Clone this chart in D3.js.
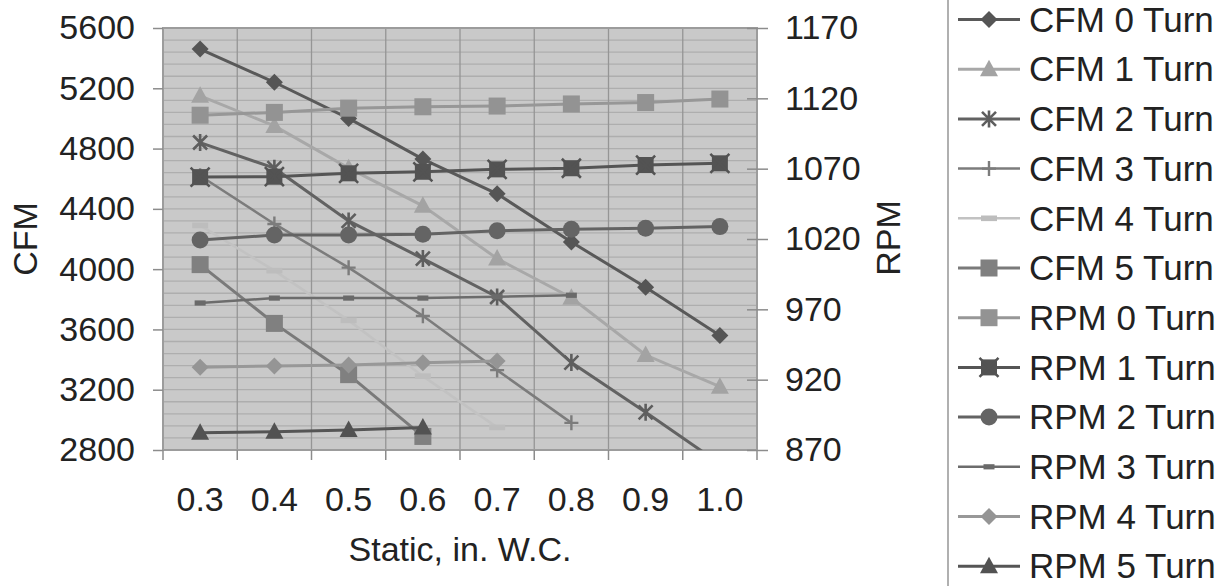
<!DOCTYPE html>
<html>
<head>
<meta charset="utf-8">
<script src="https://cdnjs.cloudflare.com/ajax/libs/d3/7.8.5/d3.min.js"></script>
<style>
  html, body { margin: 0; padding: 0; background: #fff; }
  svg text { font-family: "Liberation Sans", Arial, sans-serif; fill: #222; }
</style>
</head>
<body>
<div id="chart"></div>
<script>
// fan curves: CFM (left axis) and RPM (right axis) against static pressure

const staticLabels = ["0.3", "0.4", "0.5", "0.6", "0.7", "0.8", "0.9", "1.0"];

const cfm0 = [5460, 5240, 5000, 4730, 4500, 4180, 3880, 3560];
const cfm1 = [5150, 4950, 4670, 4420, 4070, 3810, 3430, 3220];
const cfm2 = [4840, 4670, 4320, 4070, 3815, 3380, 3050, 2710];
const cfm3 = [4620, 4300, 4010, 3690, 3330, 2980];
const cfm4 = [4290, 3990, 3660, 3290, 2950];
const cfm5 = [4030, 3640, 3300, 2890];

const rpm0 = [1108, 1110, 1113, 1114, 1114.5, 1116, 1117, 1119.5];
const rpm1 = [1064, 1064.3, 1066.7, 1067.8, 1069.5, 1070.3, 1072.6, 1073.8];
const rpm2 = [1019.3, 1022.8, 1022.8, 1023.3, 1025.9, 1026.9, 1027.6, 1028.8];
const rpm3 = [974.5, 978, 978, 978, 979, 980];
const rpm4 = [928.8, 929.7, 930.4, 932, 933.3];
const rpm5 = [882.3, 883, 884.2, 886];

const cfmTicks = d3.range(2800, 5601, 400);
const rpmTicks = d3.range(870, 1171, 50);

const seriesNames = ["CFM 0 Turn", "CFM 1 Turn", "CFM 2 Turn", "CFM 3 Turn", "CFM 4 Turn", "CFM 5 Turn",
                     "RPM 0 Turn", "RPM 1 Turn", "RPM 2 Turn", "RPM 3 Turn", "RPM 4 Turn", "RPM 5 Turn"];

// styling per series (axis, line colour, marker shape, marker colour, line width)
const series = [
  { values: cfm0, axis: "L", stroke: "#595959", marker: "diamond", fill: "#555555", w: 3 },
  { values: cfm1, axis: "L", stroke: "#a8a8a8", marker: "triangle", fill: "#a3a3a3", w: 3 },
  { values: cfm2, axis: "L", stroke: "#626262", marker: "asterisk", fill: "#5e5e5e", w: 3 },
  { values: cfm3, axis: "L", stroke: "#7c7c7c", marker: "plus", fill: "#7c7c7c", w: 2.5 },
  { values: cfm4, axis: "L", stroke: "#c2c2c2", marker: "dashWide", fill: "#bdbdbd", w: 2.5 },
  { values: cfm5, axis: "L", stroke: "#7a7a7a", marker: "square", fill: "#808080", w: 3 },
  { values: rpm0, axis: "R", stroke: "#979797", marker: "square", fill: "#939393", w: 3 },
  { values: rpm1, axis: "R", stroke: "#555555", marker: "squareX", fill: "#535353", w: 3 },
  { values: rpm2, axis: "R", stroke: "#636363", marker: "circle", fill: "#646464", w: 3 },
  { values: rpm3, axis: "R", stroke: "#6c6c6c", marker: "dash", fill: "#6a6a6a", w: 2.5 },
  { values: rpm4, axis: "R", stroke: "#989898", marker: "diamond", fill: "#959595", w: 3 },
  { values: rpm5, axis: "R", stroke: "#555555", marker: "triangle", fill: "#525252", w: 3 }
];

const W = 1222, H = 586;
const plot = { left: 163, right: 757, top: 28, bottom: 450 };

const svg = d3.select("#chart").append("svg")
  .attr("width", W).attr("height", H);

const x = d3.scaleBand().domain(staticLabels).range([plot.left, plot.right]);
const xc = d => x(d) + x.bandwidth() / 2;
const yL = d3.scaleLinear().domain([2800, 5600]).range([plot.bottom, plot.top]);
const yR = d3.scaleLinear().domain([870, 1170]).range([plot.bottom, plot.top]);

// plot background and grid
svg.append("rect")
  .attr("x", plot.left).attr("y", plot.top)
  .attr("width", plot.right - plot.left).attr("height", plot.bottom - plot.top)
  .attr("fill", "#c9c9c9");

svg.append("g").selectAll("line")
  .data(d3.range(2800, 5601, 80))
  .enter().append("line")
  .attr("x1", plot.left).attr("x2", plot.right)
  .attr("y1", d => yL(d)).attr("y2", d => yL(d))
  .attr("stroke", "#aeaeae").attr("stroke-width", 1.3);

svg.append("g").selectAll("line")
  .data(staticLabels.slice(1))
  .enter().append("line")
  .attr("x1", d => x(d)).attr("x2", d => x(d))
  .attr("y1", plot.top).attr("y2", plot.bottom)
  .attr("stroke", "#959595").attr("stroke-width", 1.3);

svg.append("rect")
  .attr("x", plot.left).attr("y", plot.top)
  .attr("width", plot.right - plot.left).attr("height", plot.bottom - plot.top)
  .attr("fill", "none").attr("stroke", "#9c9c9c").attr("stroke-width", 2);

svg.append("defs").append("clipPath").attr("id", "clip")
  .append("rect")
  .attr("x", plot.left).attr("y", plot.top)
  .attr("width", plot.right - plot.left).attr("height", plot.bottom - plot.top);

// marker drawing
function drawMarker(g, type, cx, cy, color) {
  const m = g.append("g").attr("transform", `translate(${cx},${cy})`);
  if (type === "diamond") {
    m.append("path").attr("d", "M0,-8.5L8.5,0L0,8.5L-8.5,0Z").attr("fill", color);
  } else if (type === "triangle") {
    m.append("path").attr("d", "M0,-9.5L9,7L-9,7Z").attr("fill", color);
  } else if (type === "square") {
    m.append("rect").attr("x", -8.5).attr("y", -8.5).attr("width", 17).attr("height", 17).attr("fill", color);
  } else if (type === "squareX") {
    m.append("rect").attr("x", -8).attr("y", -8).attr("width", 16).attr("height", 16).attr("fill", color);
    m.append("path").attr("d", "M-9.5,-9.5L9.5,9.5M-9.5,9.5L9.5,-9.5")
      .attr("stroke", color).attr("stroke-width", 2.5);
  } else if (type === "circle") {
    m.append("circle").attr("r", 8.5).attr("fill", color);
  } else if (type === "asterisk") {
    m.append("path").attr("d", "M-7,-7L7,7M-7,7L7,-7M0,-8.5L0,8.5")
      .attr("stroke", color).attr("stroke-width", 2.6).attr("fill", "none");
  } else if (type === "plus") {
    m.append("path").attr("d", "M-7,0L7,0M0,-7.5L0,7.5")
      .attr("stroke", color).attr("stroke-width", 2.4).attr("fill", "none");
  } else if (type === "dashWide") {
    m.append("rect").attr("x", -8).attr("y", -2.8).attr("width", 16).attr("height", 5.6).attr("fill", color);
  } else if (type === "dash") {
    m.append("rect").attr("x", -5.5).attr("y", -2.6).attr("width", 11).attr("height", 5.2).attr("fill", color);
  }
}

// series lines and markers
const seriesLayer = svg.append("g").attr("clip-path", "url(#clip)");
series.forEach(s => {
  const yScale = s.axis === "L" ? yL : yR;
  const pts = s.values.map((v, i) => [xc(staticLabels[i]), yScale(v)]);
  const g = seriesLayer.append("g");
  g.append("path")
    .attr("d", d3.line()(pts))
    .attr("fill", "none")
    .attr("stroke", s.stroke)
    .attr("stroke-width", s.w);
  pts.forEach(p => drawMarker(g, s.marker, p[0], p[1], s.fill));
});

// axes
const leftAxis = svg.append("g")
  .attr("transform", `translate(${plot.left},0)`)
  .call(d3.axisLeft(yL).tickValues(cfmTicks).tickSize(10).tickPadding(18).tickFormat(d3.format("d")));
leftAxis.select(".domain").remove();
leftAxis.selectAll(".tick line").attr("stroke", "#8c8c8c").attr("stroke-width", 1.5);
leftAxis.selectAll("text").style("font-size", "34px");

const rightAxis = svg.append("g")
  .attr("transform", `translate(${plot.right},0)`)
  .call(d3.axisRight(yR).tickValues(rpmTicks).tickSize(11).tickPadding(17).tickFormat(d3.format("d")));
rightAxis.select(".domain").remove();
rightAxis.selectAll(".tick line").attr("x1", -10).attr("stroke", "#8c8c8c").attr("stroke-width", 1.5);
rightAxis.selectAll("text").style("font-size", "34px");

const bottomAxis = svg.append("g")
  .attr("transform", `translate(0,${plot.bottom})`)
  .call(d3.axisBottom(x).tickSize(0).tickPadding(37));
bottomAxis.select(".domain").remove();
bottomAxis.selectAll("text").style("font-size", "34px");

// category boundary ticks on the x axis
svg.append("g").selectAll("line")
  .data(staticLabels.map(d => x(d)).concat([plot.right]))
  .enter().append("line")
  .attr("x1", d => d).attr("x2", d => d)
  .attr("y1", plot.bottom).attr("y2", plot.bottom + 10)
  .attr("stroke", "#8c8c8c").attr("stroke-width", 1.5);

// axis titles
svg.append("text")
  .attr("x", (plot.left + plot.right) / 2)
  .attr("y", 561)
  .attr("text-anchor", "middle")
  .style("font-size", "34px")
  .text("Static, in. W.C.");

svg.append("text")
  .attr("transform", `translate(37,${(plot.top + plot.bottom) / 2}) rotate(-90)`)
  .attr("text-anchor", "middle")
  .style("font-size", "34px")
  .text("CFM");

svg.append("text")
  .attr("transform", `translate(900,${(plot.top + plot.bottom) / 2 - 1}) rotate(-90)`)
  .attr("text-anchor", "middle")
  .style("font-size", "34px")
  .text("RPM");

// legend
svg.append("line")
  .attr("x1", 948).attr("x2", 948).attr("y1", 0).attr("y2", H)
  .attr("stroke", "#b0b0b0").attr("stroke-width", 2);

const legend = svg.append("g");
series.forEach((s, i) => {
  const ly = 19.5 + i * 49.7;
  legend.append("line")
    .attr("x1", 958).attr("x2", 1020).attr("y1", ly).attr("y2", ly)
    .attr("stroke", s.stroke).attr("stroke-width", s.w);
  drawMarker(legend, s.marker, 989, ly, s.fill);
  legend.append("text")
    .attr("x", 1029).attr("y", ly)
    .attr("dy", "0.35em")
    .style("font-size", "35px")
    .text(seriesNames[i]);
});
</script>
</body>
</html>
